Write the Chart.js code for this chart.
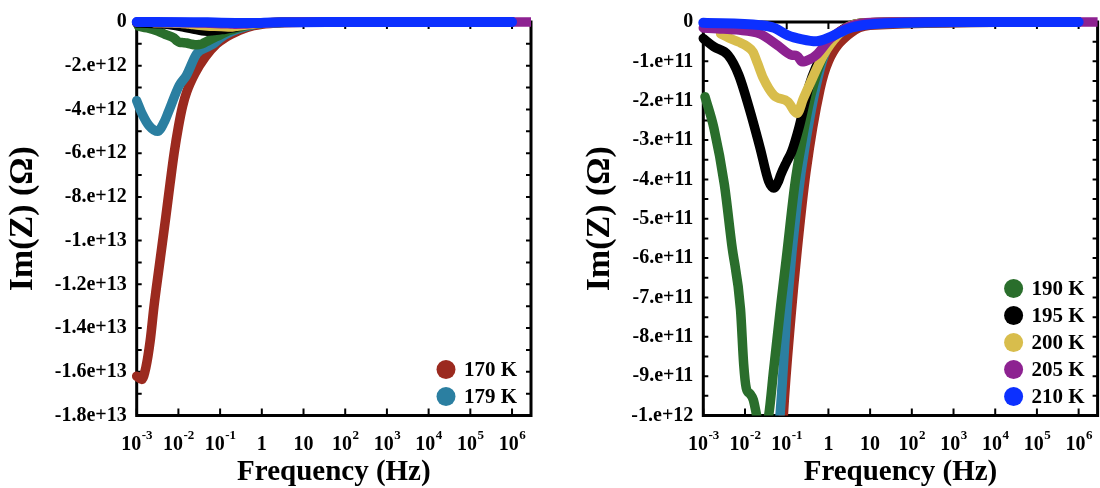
<!DOCTYPE html>
<html><head><meta charset="utf-8">
<script src="https://cdn.jsdelivr.net/npm/chart.js@4.4.1/dist/chart.umd.min.js"></script>
<style>
html,body{margin:0;padding:0;background:#fff;}
#wrap{display:flex;width:1100px;height:488px;}
.box{position:relative;width:550px;height:488px;}
</style></head><body>
<div id="wrap"><div class="box"><canvas id="c1"></canvas></div><div class="box"><canvas id="c2"></canvas></div></div>
<script>
const FONT = '"Liberation Serif", "Times New Roman", serif';

// ---- data (frequency in Hz, Im(Z) in Ohm) ----
const f170 = [0.001, 0.00132, 0.00166, 0.0021, 0.0026, 0.0034, 0.004, 0.005, 0.0063, 0.0079, 0.01, 0.0126, 0.0158, 0.025, 0.044, 0.083, 0.126, 0.178, 0.29, 0.63, 1, 3.2, 10, 1e6];
const z170 = [-16.2e12, -16.35e12, -15.8e12, -14.6e12, -13.0e12, -11.3e12, -10.3e12, -8.9e12, -7.4e12, -6.0e12, -4.8e12, -3.85e12, -3.2e12, -2.35e12, -1.6e12, -1.0e12, -0.75e12, -0.58e12, -0.38e12, -0.17e12, -0.1e12, -0.03e12, -0.008e12, 0];

const f179 = [0.001, 0.00135, 0.002, 0.0032, 0.0045, 0.0058, 0.0105, 0.0155, 0.0275, 0.049, 0.069, 0.107, 0.178, 0.29, 0.63, 1, 3.2, 10, 1e6];
const z179 = [-3.6e12, -4.2e12, -4.75e12, -5.0e12, -4.6e12, -4.1e12, -2.9e12, -2.45e12, -1.45e12, -1.15e12, -1.0e12, -0.7e12, -0.46e12, -0.3e12, -0.12e12, -0.06e12, -0.015e12, -0.005e12, 0];

const f190 = [0.0011, 0.0018, 0.0032, 0.0048, 0.0078, 0.0093, 0.0107, 0.0132, 0.0158, 0.02, 0.025, 0.0316, 0.037, 0.049, 0.072, 0.098, 0.158, 0.234, 0.38, 0.76, 1.66, 3.6, 10, 32, 1e6];
const z190 = [-1.9e11, -2.7e11, -4.13e11, -5.65e11, -7.3e11, -8.7e11, -9.3e11, -9.45e11, -9.6e11, -10.1e11, -10.4e11, -10.3e11, -10.0e11, -8.8e11, -7.2e11, -6.0e11, -4.1e11, -3.0e11, -1.86e11, -0.84e11, -0.3e11, -0.08e11, -0.02e11, -0.005e11, 0];

const f195 = [0.001, 0.0018, 0.0039, 0.0071, 0.0126, 0.023, 0.037, 0.049, 0.063, 0.072, 0.1, 0.132, 0.195, 0.35, 0.76, 1.66, 3.6, 10, 32, 1e6];
const z195 = [-0.42e11, -0.63e11, -0.84e11, -1.35e11, -2.19e11, -3.2e11, -4.05e11, -4.22e11, -4.05e11, -3.88e11, -3.55e11, -3.29e11, -2.7e11, -1.6e11, -0.76e11, -0.3e11, -0.08e11, -0.02e11, -0.005e11, 0];

const f200 = [0.0026, 0.004, 0.0071, 0.0112, 0.0155, 0.02, 0.0275, 0.049, 0.107, 0.178, 0.25, 0.35, 0.76, 1.66, 3.6, 10, 32, 1e6];
const z200 = [-0.3e11, -0.4e11, -0.51e11, -0.62e11, -0.76e11, -1.05e11, -1.43e11, -1.86e11, -2.03e11, -2.32e11, -1.95e11, -1.6e11, -0.84e11, -0.34e11, -0.08e11, -0.02e11, -0.005e11, 0];

const f205 = [0.001, 0.0022, 0.0063, 0.023, 0.06, 0.132, 0.178, 0.234, 0.355, 0.51, 1.12, 2.95, 7.9, 32, 1e6, 2.85e6];
const z205 = [-0.15e11, -0.17e11, -0.2e11, -0.3e11, -0.59e11, -0.84e11, -0.86e11, -1.01e11, -0.95e11, -0.84e11, -0.42e11, -0.13e11, -0.02e11, 0, 0, 0];

const f210 = [0.001, 0.023, 0.05, 0.107, 0.234, 0.51, 1.12, 2.95, 7.9, 56, 1000, 1e6];
const z210 = [-0.02e11, -0.08e11, -0.15e11, -0.34e11, -0.44e11, -0.49e11, -0.38e11, -0.17e11, -0.07e11, -0.02e11, 0, 0];

const seriesNames = ['170 K', '179 K', '190 K', '195 K', '200 K', '205 K', '210 K'];
const seriesColors = ['#9b2a1f', '#2b7fa1', '#2a6e2c', '#000000', '#d8bd4c', '#8d2291', '#0c30ff'];
const seriesFreq = [f170, f179, f190, f195, f200, f205, f210];
const seriesIm = [z170, z179, z190, z195, z200, z205, z210];

// ---- axes ----
const xMin = 0.001, xMax = 2.85e6;
const xTickValues = [1e-3, 1e-2, 1e-1, 1, 10, 1e2, 1e3, 1e4, 1e5, 1e6];
const xTickBase = ['10', '10', '10', '1', '10', '10', '10', '10', '10', '10'];
const xTickSup = ['-3', '-2', '-1', '', '', '2', '3', '4', '5', '6'];

const yTicksLeft = [0, -2e12, -4e12, -6e12, -8e12, -1e13, -1.2e13, -1.4e13, -1.6e13, -1.8e13];
const yLabelsLeft = ['0', '-2.e+12', '-4.e+12', '-6.e+12', '-8.e+12', '-1.e+13', '-1.2e+13', '-1.4e+13', '-1.6e+13', '-1.8e+13'];
const yMinorLeft = [-1e12, -3e12, -5e12, -7e12, -9e12, -1.1e13, -1.3e13, -1.5e13, -1.7e13];

const yTicksRight = [0, -1e11, -2e11, -3e11, -4e11, -5e11, -6e11, -7e11, -8e11, -9e11, -1e12];
const yLabelsRight = ['0', '-1.e+11', '-2.e+11', '-3.e+11', '-4.e+11', '-5.e+11', '-6.e+11', '-7.e+11', '-8.e+11', '-9.e+11', '-1.e+12'];
const yMinorRight = [-0.5e11, -1.5e11, -2.5e11, -3.5e11, -4.5e11, -5.5e11, -6.5e11, -7.5e11, -8.5e11, -9.5e11];

function buildDatasets() {
  return seriesNames.map((name, i) => ({
    label: name,
    data: seriesFreq[i].map((f, j) => ({x: f, y: seriesIm[i][j]})),
    borderColor: seriesColors[i],
    backgroundColor: seriesColors[i],
    borderWidth: i === 6 ? 10 : 9.5,
    pointRadius: 0,
    fill: false,
    cubicInterpolationMode: 'monotone',
    borderCapStyle: 'round',
    borderJoinStyle: 'round',
    clip: {left: 6, top: 8, right: 0, bottom: 0},
    order: 6 - i
  }));
}

function framePlugin(cfg) {
  return {
    id: 'frame_' + cfg.id,
    beforeDatasetsDraw(chart) {
      const {ctx, chartArea: a, scales: {x, y}} = chart;
      ctx.save();
      ctx.strokeStyle = '#000';
      ctx.lineWidth = 3;
      ctx.strokeRect(a.left, a.top, a.right - a.left, a.bottom - a.top);
      ctx.lineWidth = 2;
      ctx.beginPath();
      xTickValues.forEach(v => {
        const px = x.getPixelForValue(v);
        ctx.moveTo(px, a.bottom); ctx.lineTo(px, a.bottom - 7);
        ctx.moveTo(px, a.top); ctx.lineTo(px, a.top + 7);
      });
      cfg.yTicks.concat(cfg.yMinor).forEach(v => {
        const py = y.getPixelForValue(v);
        ctx.moveTo(a.left, py); ctx.lineTo(a.left + 5, py);
        ctx.moveTo(a.right, py); ctx.lineTo(a.right - 5, py);
      });
      ctx.stroke();
      ctx.restore();
    },
    afterDraw(chart) {
      const {ctx, chartArea: a, scales: {x}} = chart;
      ctx.save();
      ctx.fillStyle = '#000';
      ctx.textBaseline = 'alphabetic';
      const baseFont = 'bold 20px ' + FONT, supFont = 'bold 13px ' + FONT;
      xTickValues.forEach((v, i) => {
        const px = x.getPixelForValue(v);
        ctx.font = baseFont; const wb = ctx.measureText(xTickBase[i]).width;
        ctx.font = supFont; const ws = xTickSup[i] ? ctx.measureText(xTickSup[i]).width : 0;
        const start = px - (wb + ws) / 2;
        ctx.font = baseFont; ctx.textAlign = 'left';
        ctx.fillText(xTickBase[i], start, a.bottom + 34);
        if (xTickSup[i]) { ctx.font = supFont; ctx.fillText(xTickSup[i], start + wb + 0.5, a.bottom + 23); }
      });
      // legend
      ctx.font = 'bold 21px ' + FONT;
      ctx.textBaseline = 'middle';
      cfg.legend.forEach((idx, k) => {
        const cy = a.bottom - 19 - (cfg.legend.length - 1 - k) * 27;
        ctx.beginPath();
        ctx.fillStyle = seriesColors[idx];
        ctx.arc(a.right - cfg.legendDx, cy, 9.5, 0, Math.PI * 2);
        ctx.fill();
        ctx.fillStyle = '#000';
        ctx.fillText(seriesNames[idx], a.right - cfg.legendDx + 18, cy + 1);
      });
      ctx.restore();
    }
  };
}

function makeChart(canvasId, cfg) {
  return new Chart(document.getElementById(canvasId), {
    type: 'line',
    data: {datasets: buildDatasets()},
    options: {
      responsive: true, maintainAspectRatio: false, animation: false, devicePixelRatio: 1,
      layout: {padding: {left: 0, right: cfg.padRight, top: 20, bottom: 0}},
      plugins: {legend: {display: false}, tooltip: {enabled: false}},
      scales: {
        x: {
          type: 'logarithmic', min: xMin, max: xMax, position: 'bottom',
          grid: {display: false, drawTicks: false}, border: {display: false},
          ticks: {display: false},
          afterFit: s => { s.height = 72.5; },
          title: {display: true, text: 'Frequency (Hz)', color: '#000',
                  font: {family: FONT, size: 29, weight: 'bold', lineHeight: 1.1}, padding: {top: 0, bottom: 0}}
        },
        y: {
          type: 'linear', min: cfg.yTicks[cfg.yTicks.length - 1], max: 0, position: 'left',
          grid: {display: false, drawTicks: false}, border: {display: false},
          afterBuildTicks: s => { s.ticks = cfg.yTicks.map(v => ({value: v})); },
          ticks: {color: '#000', padding: 10, font: {family: FONT, size: 20, weight: 'bold'},
                  callback: (v) => { const i = cfg.yTicks.indexOf(v); return i >= 0 ? cfg.yLabels[i] : ''; }},
          afterFit: s => { s.width = cfg.yWidth; },
          title: {display: true, text: 'Im(Z) (Ω)', color: '#000',
                  font: {family: FONT, size: 34, weight: 'bold'}, padding: {top: cfg.titlePad, bottom: 0}}
        }
      }
    },
    plugins: [framePlugin(cfg)]
  });
}

makeChart('c1', {id: 'l', padRight: 19, yWidth: 136.7, titlePad: 2.6,
  yTicks: yTicksLeft, yLabels: yLabelsLeft, yMinor: yMinorLeft, legend: [0, 1], legendDx: 85});
makeChart('c2', {id: 'r', padRight: 2.4, yWidth: 153.3, titlePad: 29.6,
  yTicks: yTicksRight, yLabels: yLabelsRight, yMinor: yMinorRight, legend: [2, 3, 4, 5, 6], legendDx: 84});
</script>
</body></html>
